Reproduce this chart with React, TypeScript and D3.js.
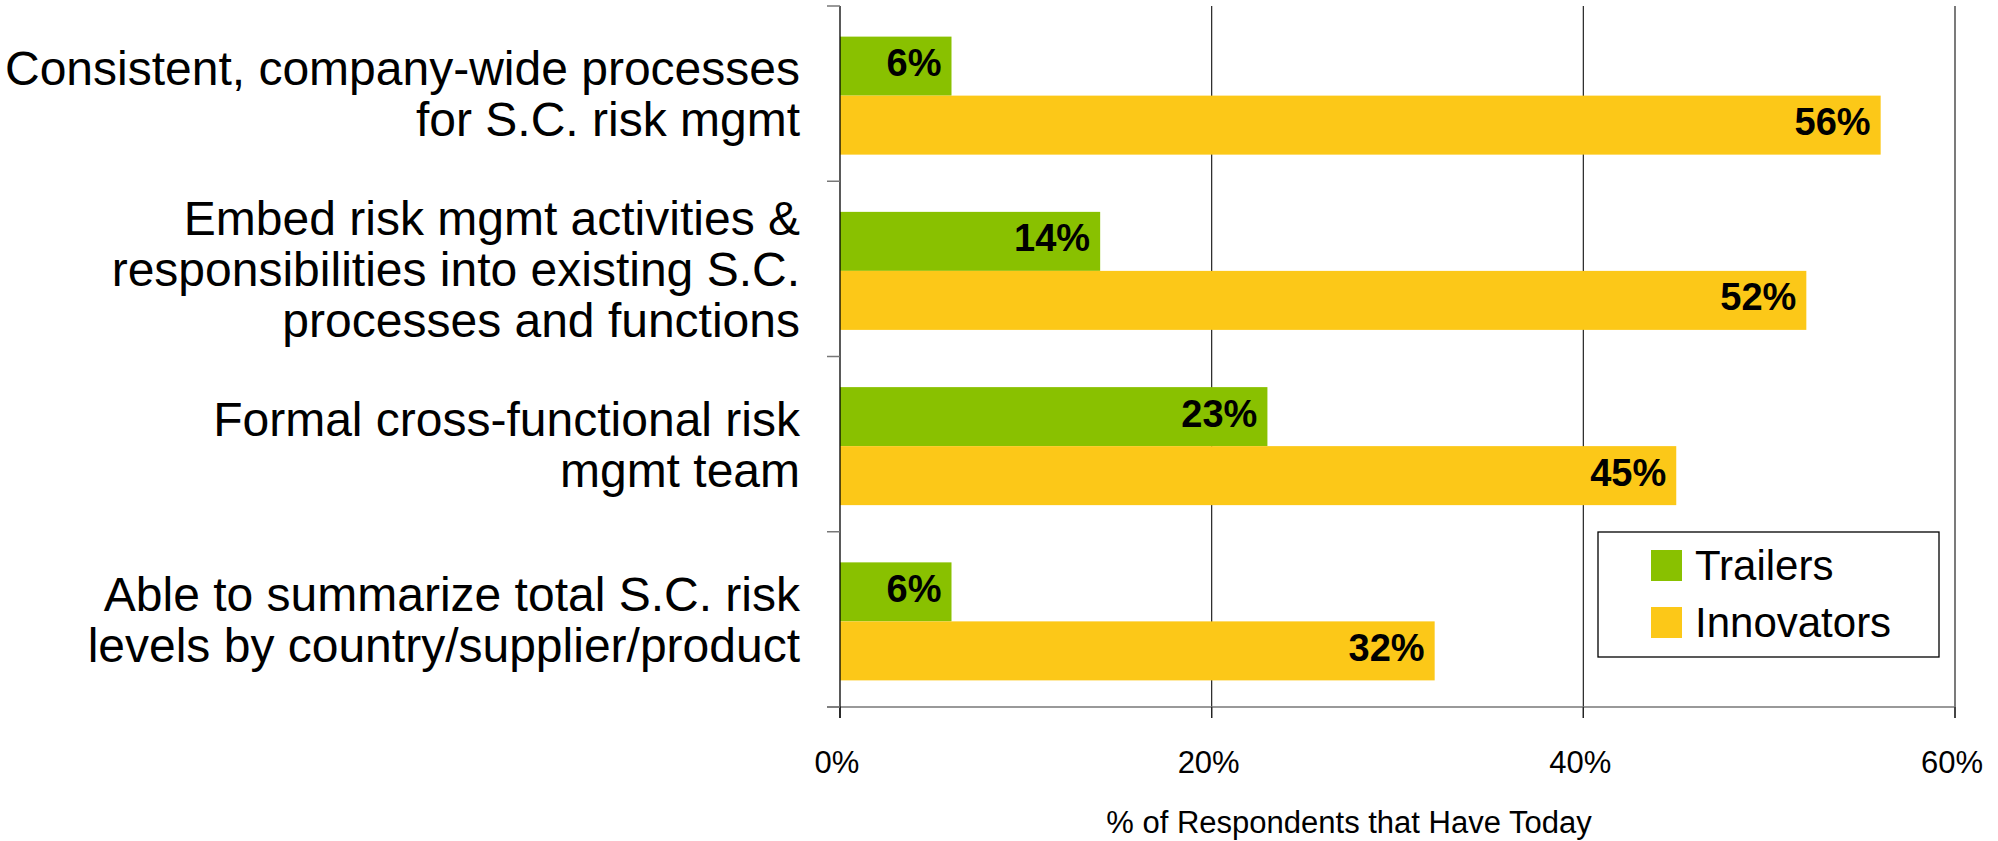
import React from "react";
import * as d3 from "d3";

const categories: string[][] = [
  ["Consistent, company-wide processes", "for S.C. risk mgmt"],
  ["Embed risk mgmt activities &", "responsibilities into existing S.C.", "processes and functions"],
  ["Formal cross-functional risk", "mgmt team"],
  ["Able to summarize total S.C. risk", "levels by country/supplier/product"],
];
const trailers = [6, 14, 23, 6];
const innovators = [56, 52, 45, 32];
const xTicks = [0, 20, 40, 60];
const seriesNames = ["Trailers", "Innovators"];
const seriesColors = ["#89C100", "#FCC818"];

const W = 1998;
const H = 841;
const plot = { left: 840, right: 1955, top: 6, bottom: 707 };
const FONT = "Liberation Sans, Arial, sans-serif";

export default function App() {
  const x = d3.scaleLinear().domain([0, 60]).range([plot.left, plot.right]);
  const y = d3
    .scaleBand<number>()
    .domain(d3.range(categories.length))
    .range([plot.top, plot.bottom])
    .paddingInner(0)
    .paddingOuter(0);
  const inner = d3
    .scaleBand<number>()
    .domain([0, 1])
    .range([2, y.bandwidth() + 2])
    .paddingOuter(0.485)
    .paddingInner(0);

  const boundaries = d3.range(categories.length + 1).map((i) => plot.top + i * y.step());
  const series = [trailers, innovators];

  return (
    <svg
      width={W}
      height={H}
      style={{ position: "absolute", left: 0, top: 0, background: "#fff" }}
      fontFamily={FONT}
    >
      <rect x={0} y={0} width={W} height={H} fill="#fff" />
      {/* gridlines */}
      {xTicks.slice(1).map((t) => (
        <line key={"g" + t} x1={x(t)} x2={x(t)} y1={plot.top} y2={plot.bottom + 11} stroke="#222" strokeWidth={1.2} />
      ))}
      {/* bars */}
      {series.map((vals, s) =>
        vals.map((v, i) => {
          const by = (y(i) as number) + (inner(s) as number);
          const bh = inner.bandwidth();
          return (
            <g key={s + "-" + i}>
              <rect x={x(0)} y={by} width={x(v) - x(0)} height={bh} fill={seriesColors[s]} />
              <text
                x={x(v) - 10}
                y={by + bh / 2 + 10}
                textAnchor="end"
                fontSize={38}
                fontWeight="bold"
                fill="#000"
              >
                {v}%
              </text>
            </g>
          );
        })
      )}
      {/* x axis */}
      <line x1={plot.left - 13} x2={plot.right} y1={plot.bottom} y2={plot.bottom} stroke="#777" strokeWidth={1.5} />
      {xTicks.map((t) => (
        <g key={"t" + t}>
          <line x1={x(t)} x2={x(t)} y1={plot.bottom} y2={plot.bottom + 11} stroke="#222" strokeWidth={1.2} />
          <text x={x(t) - 3} y={773} textAnchor="middle" fontSize={31} fill="#000">
            {t}%
          </text>
        </g>
      ))}
      {/* y axis */}
      <line x1={plot.left} x2={plot.left} y1={plot.top} y2={plot.bottom + 11} stroke="#000" strokeWidth={1.3} />
      {boundaries.map((b, i) => (
        <line key={"yt" + i} x1={plot.left - 13} x2={plot.left} y1={b} y2={b} stroke="#777" strokeWidth={1.5} />
      ))}
      {/* category labels */}
      {categories.map((lines, i) => {
        const c = (y(i) as number) + y.bandwidth() / 2;
        const lh = 51;
        return (
          <text key={"c" + i} textAnchor="end" fontSize={48} fill="#000">
            {lines.map((ln, j) => (
              <tspan key={j} x={800} y={c + 17 + (j - (lines.length - 1) / 2) * lh}>
                {ln}
              </tspan>
            ))}
          </text>
        );
      })}
      {/* axis title */}
      <text x={1349} y={833} textAnchor="middle" fontSize={31} fill="#000">
        % of Respondents that Have Today
      </text>
      {/* legend */}
      <rect x={1598} y={532} width={341} height={125} fill="#fff" stroke="#000" strokeWidth={1.3} />
      {seriesNames.map((n, i) => (
        <g key={n}>
          <rect x={1651} y={550 + i * 57} width={31} height={31} fill={seriesColors[i]} />
          <text x={1695} y={580 + i * 57} fontSize={42} fill="#000">
            {n}
          </text>
        </g>
      ))}
    </svg>
  );
}
